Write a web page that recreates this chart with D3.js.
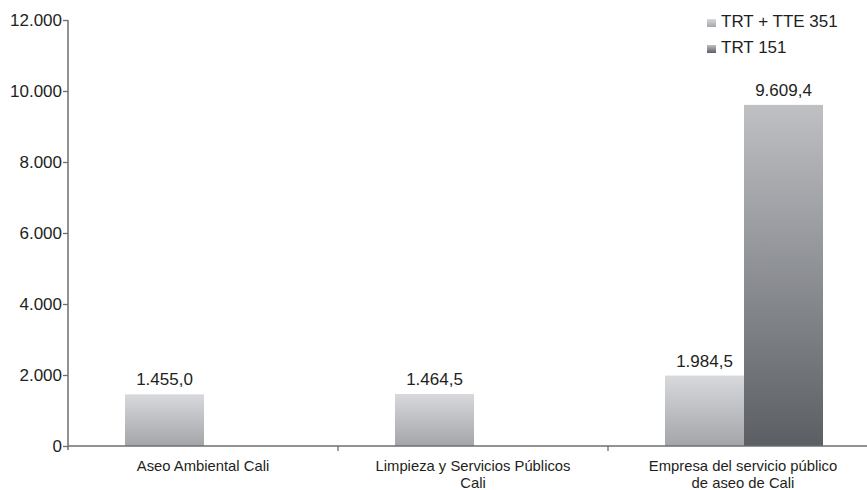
<!DOCTYPE html>
<html><head><meta charset="utf-8">
<script src="https://cdn.jsdelivr.net/npm/d3@7"></script>
<style>body{margin:0;background:#fff}text{font-family:"Liberation Sans",Arial,sans-serif;fill:#231f20}</style>
</head><body>
<svg id="c" width="867" height="490"></svg>
<script>
const categories = [["Aseo Ambiental Cali"], ["Limpieza y Servicios Públicos", "Cali"], ["Empresa del servicio público", "de aseo de Cali"]];
const series = ["TRT + TTE 351", "TRT 151"];
const trtTte351 = [1455.0, 1464.5, 1984.5];
const trt151 = [null, null, 9609.4];
const yTicks = [0, 2000, 4000, 6000, 8000, 10000, 12000];

const loc = d3.formatLocale({decimal: ",", thousands: ".", grouping: [3], currency: ["$", ""]});
const fTick = loc.format(",.0f"), fVal = loc.format(",.1f");
const svg = d3.select("#c");
const catKeys = categories.map(c => c.join(" "));
const x0 = d3.scaleBand().domain(catKeys).range([68, 878]);
const x1 = d3.scaleBand().domain(series).range([57, 215]);
const y = d3.scaleLinear().domain([0, 12000]).range([446, 20]);
const axisColor = "#6d6e71";

const defs = svg.append("defs");
const grads = [["g0", "#d7d9dc", "#a3a5a9"], ["g1", "#bec0c4", "#5b5e63"]];
grads.forEach(([id, a, b]) => {
  const g = defs.append("linearGradient").attr("id", id).attr("x1", 0).attr("y1", 0).attr("x2", 0).attr("y2", 1);
  g.append("stop").attr("offset", "0%").attr("stop-color", a);
  g.append("stop").attr("offset", "100%").attr("stop-color", b);
});

// bars
const data = [];
catKeys.forEach((c, i) => {
  [trtTte351[i], trt151[i]].forEach((v, s) => { if (v != null) data.push({c, s, v}); });
});
svg.selectAll("rect.bar").data(data).enter().append("rect")
  .attr("x", d => x0(d.c) + x1(series[d.s]))
  .attr("width", x1.bandwidth())
  .attr("y", d => y(d.v))
  .attr("height", d => y(0) - y(d.v))
  .attr("fill", d => `url(#g${d.s})`);
svg.selectAll("text.val").data(data).enter().append("text")
  .attr("x", d => x0(d.c) + x1(series[d.s]) + x1.bandwidth() / 2)
  .attr("y", d => y(d.v) - 9)
  .attr("text-anchor", "middle").attr("font-size", 17)
  .text(d => fVal(d.v));

// y axis
const yAxis = svg.append("g").attr("transform", "translate(68,0)")
  .call(d3.axisLeft(y).tickValues(yTicks).tickFormat(fTick).tickSizeOuter(0).tickSize(5).tickPadding(1));
yAxis.select(".domain").remove();
yAxis.selectAll("line").attr("stroke", axisColor).attr("stroke-width", 1.3);
yAxis.selectAll("text").attr("font-size", 17).style("font-family", '"Liberation Sans",Arial,sans-serif').attr("fill", "#231f20");
svg.append("line").attr("x1", 68).attr("x2", 68).attr("y1", y(12000)).attr("y2", y(0) + 4)
  .attr("stroke", axisColor).attr("stroke-width", 1.5);

// x axis
svg.append("line").attr("x1", 68).attr("x2", 867).attr("y1", y(0)).attr("y2", y(0))
  .attr("stroke", axisColor).attr("stroke-width", 1.5);
svg.selectAll("line.xt").data(catKeys.slice(1)).enter().append("line")
  .attr("x1", d => x0(d)).attr("x2", d => x0(d)).attr("y1", y(0)).attr("y2", y(0) + 5)
  .attr("stroke", axisColor).attr("stroke-width", 1.3);
categories.forEach((lines, i) => {
  const cx = x0(catKeys[i]) + x0.bandwidth() / 2;
  lines.forEach((l, j) => svg.append("text").attr("text-anchor", "middle").attr("font-size", 14.8)
    .attr("x", cx).attr("y", 471 + j * 16.7).text(l));
});

// legend
series.forEach((s, i) => {
  const g = svg.append("g").attr("transform", `translate(707,${19 + i * 26})`);
  g.append("rect").attr("width", 9).attr("height", 8).attr("fill", `url(#g${i})`);
  g.append("text").attr("x", 14).attr("y", 8).attr("font-size", 17).text(s);
});
</script>
</body></html>
